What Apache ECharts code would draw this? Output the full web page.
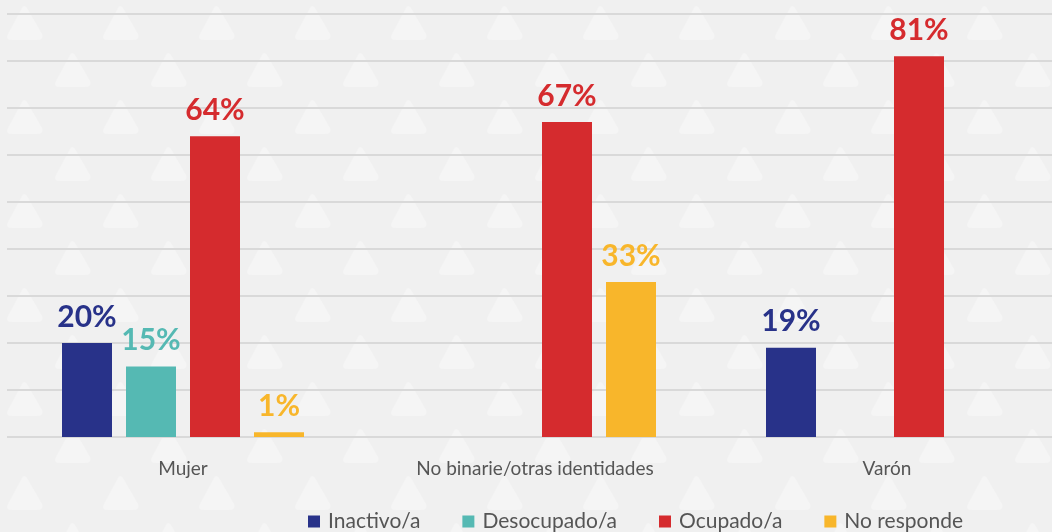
<!DOCTYPE html>
<html>
<head>
<meta charset="utf-8">
<script src="https://cdn.jsdelivr.net/npm/echarts@6/dist/echarts.min.js"></script>
<style>
    html, body { margin: 0; padding: 0; }
    body {
        width: 1052px; height: 532px;
        background-color: #f0f0f0;
        background-image: url("data:image/svg+xml,%3Csvg xmlns='http://www.w3.org/2000/svg' width='96' height='94'%3E%3Cg fill='%23f5f5f5'%3E%3Cpath d='M22 8 Q24 4 27 8 L42 34 Q44 40 37 40 L12 40 Q5 40 8 34 Z'/%3E%3Cpath d='M70 55 Q72 51 75 55 L90 81 Q92 87 85 87 L60 87 Q53 87 56 81 Z'/%3E%3C/g%3E%3C/svg%3E");
        overflow: hidden;
    }
    #chart { width: 1052px; height: 532px; }
</style>
</head>
<body>
<div id="chart"></div>
<script>
// 类别与数据
const categories = ['Mujer', 'No binarie/otras identidades', 'Varón'];
const inactivo = [20, null, 19];
const desocupado = [15, null, null];
const ocupado = [64, 67, 81];
const noResponde = [1, 33, null];

const seriesNames = ['Inactivo/a', 'Desocupado/a', 'Ocupado/a', 'No responde'];
const seriesData = [inactivo, desocupado, ocupado, noResponde];
const colors = ['#283289', '#55b9b3', '#d52b2e', '#f8b62b'];

const chart = echarts.init(document.getElementById('chart'));

const option = {
    backgroundColor: 'transparent',
    textStyle: { fontFamily: 'Lato' },
    grid: { left: 7, width: 1056, top: 14, height: 423, outerBoundsMode: 'none' },
    legend: {
        left: 303,
        top: 506,
        itemWidth: 12,
        itemHeight: 12,
        itemGap: 42,
        icon: 'rect',
        textStyle: { fontSize: 21, color: '#555', fontFamily: 'Lato', padding: [0, 0, 0, 3] },
        data: seriesNames
    },
    xAxis: {
        type: 'category',
        data: categories,
        axisLine: { show: false },
        axisTick: { show: false },
        axisLabel: { fontSize: 19, color: '#555', margin: 22 }
    },
    yAxis: {
        type: 'value',
        min: 0,
        max: 90,
        interval: 10,
        axisLabel: { show: false },
        axisLine: { show: false },
        axisTick: { show: false },
        splitLine: { lineStyle: { color: '#d9d9d9', width: 2 } }
    },
    series: seriesNames.map((name, i) => ({
        name: name,
        type: 'bar',
        data: seriesData[i],
        barWidth: 50,
        barGap: '28%',
        itemStyle: { color: colors[i] },
        label: {
            show: true,
            position: 'top',
            distance: 11,
            formatter: '{c}%',
            fontSize: 30,
            fontWeight: 'bold',
            color: colors[i],
            fontFamily: 'Lato'
        }
    }))
};

chart.setOption(option);
</script>
</body>
</html>
